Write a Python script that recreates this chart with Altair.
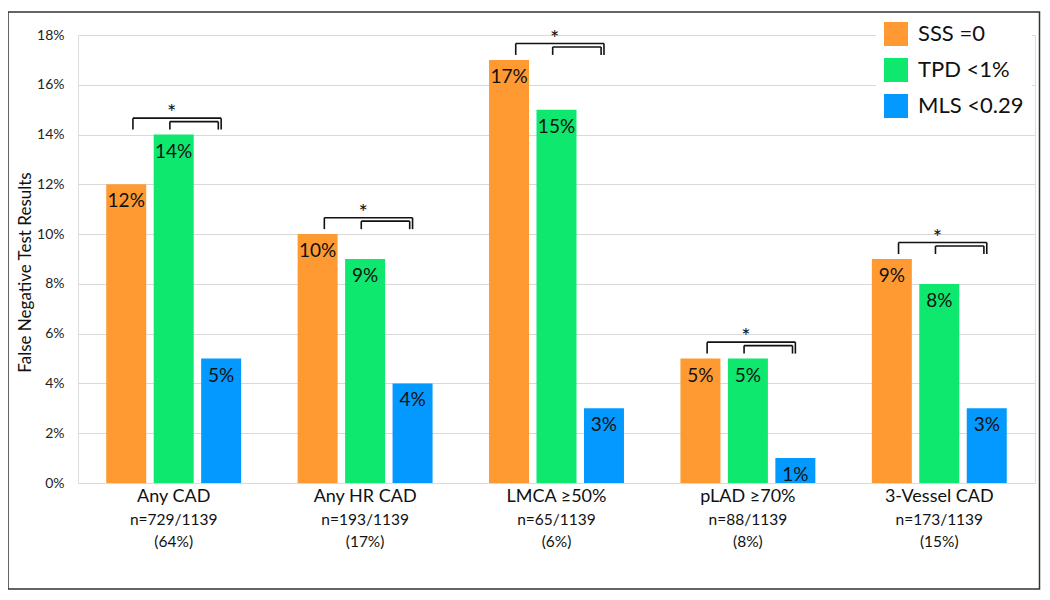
import altair as alt
import pandas as pd

groups = ["Any CAD", "Any HR CAD", "LMCA ≥50%", "pLAD ≥70%", "3-Vessel CAD"]
n_labels = ["n=729/1139", "n=193/1139", "n=65/1139", "n=88/1139", "n=173/1139"]
pct_labels = ["(64%)", "(17%)", "(6%)", "(8%)", "(15%)"]
series = ["SSS =0", "TPD <1%", "MLS <0.29"]
sss = [12, 10, 17, 5, 9]
tpd = [14, 9, 15, 5, 8]
mls = [5, 4, 3, 1, 3]
colors = ["#FF9A33", "#0EE86F", "#0399FF"]

FONT = "Lato"
STEP = 0.248   # bar spacing within a group (group units)
HALF = 0.1045  # half bar width

vals = [sss, tpd, mls]
rows = []
for gi, g in enumerate(groups):
    for si, s in enumerate(series):
        pos = gi + (si - 1) * STEP
        rows.append({"group": g, "series": s, "value": vals[si][gi] / 100.0,
                     "base": 0.0,
                     "label": f"{vals[si][gi]}%", "pos": pos,
                     "x0": pos - HALF, "x1": pos + HALF})
bars_df = pd.DataFrame(rows)

# significance brackets derived from each group's maximum
br = []
stars = []
for gi, g in enumerate(groups):
    m = max(sss[gi], tpd[gi], mls[gi])
    top_o = (m + 0.66) / 100
    top_i = (m + 0.52) / 100
    end = (m + 0.2) / 100
    lo, hi = gi - STEP + 0.035, gi + STEP
    li, hi_i = gi - 0.02, gi + STEP - 0.015
    br += [
        {"x": lo, "x2": hi, "y": top_o, "y2": top_o},
        {"x": lo, "x2": lo, "y": top_o, "y2": end},
        {"x": hi, "x2": hi, "y": top_o, "y2": end},
        {"x": li, "x2": hi_i, "y": top_i, "y2": top_i},
        {"x": li, "x2": li, "y": top_i, "y2": end},
        {"x": hi_i, "x2": hi_i, "y": top_i, "y2": end},
    ]
    stars.append({"x": gi - 0.01, "y": (m + 1.05) / 100, "t": "*"})
br_df = pd.DataFrame(br)
star_df = pd.DataFrame(stars)

cat_df = pd.DataFrame({"gx": list(range(len(groups))), "group": groups,
                       "n": n_labels, "pct": pct_labels})

xscale = alt.Scale(domain=[-0.5, len(groups) - 0.5], nice=False, zero=False)
yscale = alt.Scale(domain=[0, 0.18], nice=False)

bars = alt.Chart(bars_df).mark_bar().encode(
    x=alt.X("x0:Q", scale=xscale, axis=None),
    x2="x1:Q",
    y=alt.Y("value:Q", scale=yscale,
            axis=alt.Axis(values=[i / 100 for i in range(0, 19, 2)], format=".0%",
                          title="False Negative Test Results", grid=True,
                          gridColor="#d9d9d9", gridWidth=1, domain=False, ticks=False,
                          labelFontSize=14, labelColor="#222", labelPadding=14,
                          labelFont=FONT, titleFont=FONT, titleFontSize=17,
                          titleFontWeight="normal", titleColor="#111",
                          titleAngle=-90, titleX=-53, titleY=237,
                          titleAlign="center", titleBaseline="middle")),
    y2="base:Q",
    color=alt.Color("series:N", sort=series,
                    scale=alt.Scale(domain=series, range=colors),
                    legend=alt.Legend(title=None, orient="none", legendX=798, legendY=-21,
                                      symbolType="square", symbolSize=576,
                                      symbolStrokeWidth=0, labelFontSize=22,
                                      labelFont=FONT, labelColor="#111",
                                      labelOffset=10, rowPadding=12, padding=8,
                                      fillColor="white")),
)

val_text = alt.Chart(bars_df).mark_text(baseline="middle", dy=17, fontSize=19,
                                         font=FONT, color="#111").encode(
    x=alt.X("pos:Q", scale=xscale), y=alt.Y("value:Q", scale=yscale), text="label:N")

rules = alt.Chart(br_df).mark_rule(color="#111", strokeWidth=1.6).encode(
    x=alt.X("x:Q", scale=xscale), x2="x2:Q",
    y=alt.Y("y:Q", scale=yscale), y2="y2:Q")

star_text = alt.Chart(star_df).mark_text(baseline="middle", dy=5, fontSize=22,
                                         font=FONT, color="#111").encode(
    x=alt.X("x:Q", scale=xscale), y=alt.Y("y:Q", scale=yscale), text="t:N")

cat1 = alt.Chart(cat_df).mark_text(baseline="middle", fontSize=18, font=FONT,
                                   color="#111").encode(
    x=alt.X("gx:Q", scale=xscale), y=alt.value(462), text="group:N")
cat2 = alt.Chart(cat_df).mark_text(baseline="middle", fontSize=15.5, font=FONT,
                                   color="#111").encode(
    x=alt.X("gx:Q", scale=xscale), y=alt.value(485), text="n:N")
cat3 = alt.Chart(cat_df).mark_text(baseline="middle", fontSize=15.5, font=FONT,
                                   color="#111").encode(
    x=alt.X("gx:Q", scale=xscale), y=alt.value(507), text="pct:N")

frame = alt.Chart(pd.DataFrame({"a": [0]})).mark_rect(
    fillOpacity=0, stroke="#333", strokeWidth=1.5).encode(
    x=alt.value(-70), x2=alt.value(961.5), y=alt.value(-23), y2=alt.value(554))

chart = alt.layer(bars, val_text, rules, star_text, cat1, cat2, cat3, frame).properties(
    width=957, height=448,
    autosize=alt.AutoSizeParams(type="none"),
    padding={"left": 70, "top": 27, "right": 6, "bottom": 108},
).configure_view(stroke=None).configure(background="white")

chart.save("out.html", embed_options={"renderer": "svg", "actions": False})
